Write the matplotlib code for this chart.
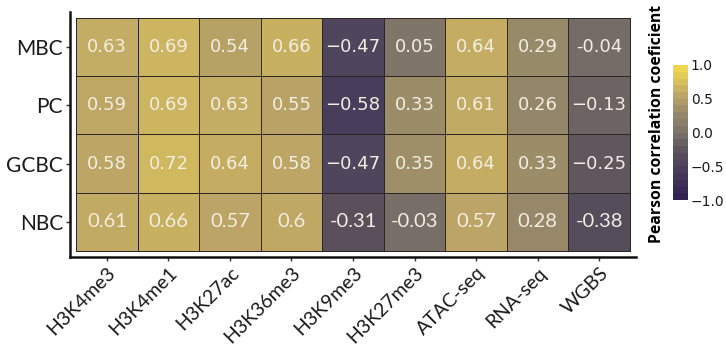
import numpy as np
import matplotlib
matplotlib.use("Agg")
import matplotlib.pyplot as plt
from matplotlib.colors import LinearSegmentedColormap, ListedColormap, Normalize

cell_types = ["MBC", "PC", "GCBC", "NBC"]
assays = ["H3K4me3", "H3K4me1", "H3K27ac", "H3K36me3", "H3K9me3",
          "H3K27me3", "ATAC-seq", "RNA-seq", "WGBS"]

mbc = [0.63, 0.69, 0.54, 0.66, -0.47, 0.05, 0.64, 0.29, -0.04]
pc = [0.59, 0.69, 0.63, 0.55, -0.58, 0.33, 0.61, 0.26, -0.13]
gcbc = [0.58, 0.72, 0.64, 0.58, -0.47, 0.35, 0.64, 0.33, -0.25]
nbc = [0.61, 0.66, 0.57, 0.6, -0.31, -0.03, 0.57, 0.28, -0.38]

cbar_ticks = [-1.0, -0.5, 0.0, 0.5, 1.0]

corr = np.array([mbc, pc, gcbc, nbc])

# purple -> warm grey -> gold palette
stops = [(-1.0, (48, 34, 82)), (-0.55, (74, 64, 92)), (-0.3, (90, 81, 92)),
         (0.0, (123, 113, 105)), (0.3, (152, 138, 105)),
         (0.55, (184, 162, 102)), (0.7, (205, 181, 96)),
         (1.0, (240, 214, 78))]
cmap = LinearSegmentedColormap.from_list(
    "purple_gold",
    [((v + 1) / 2, tuple(c / 255 for c in rgb)) for v, rgb in stops])
norm = Normalize(vmin=-1, vmax=1)

fig = plt.figure(figsize=(7.26, 3.45), dpi=100)
ax = fig.add_axes([70 / 726, 1 - 257 / 345, 566 / 726, 245 / 345])

xe = np.arange(len(assays) + 1) - 0.5
ye = np.arange(len(cell_types) + 1) - 0.5
ax.pcolormesh(xe, ye, corr, cmap=cmap, norm=norm,
              edgecolors="#2e2622", linewidth=0.5)

for i in range(corr.shape[0]):
    for j in range(corr.shape[1]):
        v = corr[i, j]
        hyphen = (i == 3) or (i == 0 and j == 8)
        txt = f"{v:g}"
        if v < 0 and not hyphen:
            txt = "\u2212" + txt[1:]
        fam = "Lato" if i == 3 else "DejaVu Sans"
        size = 14.5 if i == 3 else 13
        ax.text(j, i, txt, ha="center", va="center", color="#F2EEE2",
                fontsize=size, family=fam)

ax.set_xlim(-0.6, len(assays) - 0.4)
ax.set_ylim(len(cell_types) - 0.4, -0.6)
ax.set_xticks(range(len(assays)))
ax.set_xticklabels(assays, rotation=45, ha="right", rotation_mode="anchor",
                   family="Lato", fontsize=14, color="#1a1a1a")
ax.set_yticks(range(len(cell_types)))
ax.set_yticklabels(cell_types, family="Lato", fontsize=15, color="#1a1a1a")
ax.tick_params(length=3, width=1, color="#333333", pad=2)
for s in ["top", "right"]:
    ax.spines[s].set_visible(False)
for s in ["left", "bottom"]:
    ax.spines[s].set_linewidth(1.8)
    ax.spines[s].set_color("#111111")

# stepped legend bar, 20 bins
cbar_cmap = ListedColormap(cmap(np.linspace(0, 1, 20)))
cax = fig.add_axes([673 / 726, 1 - 200 / 345, 15 / 726, 135 / 345])
sm = plt.cm.ScalarMappable(norm=norm, cmap=cbar_cmap)
cb = fig.colorbar(sm, cax=cax, ticks=cbar_ticks)
cb.outline.set_visible(False)
cb.ax.set_yticklabels([f"{t:.1f}".replace("-", "\u2212") for t in cbar_ticks],
                      family="DejaVu Sans", fontsize=10, color="#1a1a1a")
cb.ax.tick_params(length=0, pad=2)

fig.text(657 / 726, 1 - 124 / 345, "Pearson correlation coeficient",
         rotation=90, ha="center", va="center", fontsize=11.3,
         fontweight="bold", family="Open Sans")

fig.savefig("out.png", dpi=100)
